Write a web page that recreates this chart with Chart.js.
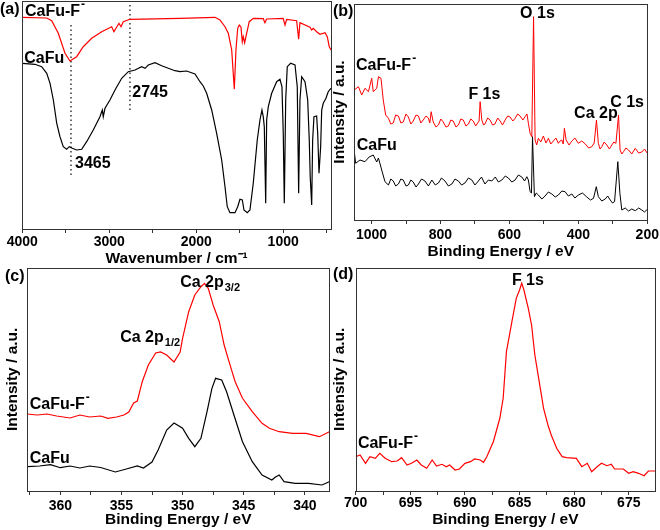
<!DOCTYPE html>
<html>
<head>
<meta charset="utf-8">
<script src="https://cdn.jsdelivr.net/npm/chart.js@4.4.0/dist/chart.umd.min.js"></script>
<style>
  body { margin: 0; background: #fff; }
  #fig { position: relative; width: 660px; height: 530px; background: #fff; overflow: hidden; }
  canvas { position: absolute; }
</style>
</head>
<body>
<div id="fig">
  <canvas id="ca" width="335" height="268" style="left:0;top:0"></canvas>
  <canvas id="cb" width="328" height="268" style="left:332px;top:0"></canvas>
  <canvas id="cc" width="335" height="268" style="left:0;top:262px"></canvas>
  <canvas id="cd" width="328" height="268" style="left:332px;top:262px"></canvas>
</div>
<script>
// (a) FTIR, wavenumber (cm-1) vs transmittance (a.u.)
var irRedWn = [4000,3719,3662,3586,3509,3452,3375,3299,3202,3087,2972,2946,2923,2888,2865,2839,2762,2187,1784,1727,1669,1631,1592,1562,1543,1523,1505,1486,1470,1459,1443,1420,1390,1344,1229,1210,1190,1000,979,960,845,822,807,692,672,654,615,577,519,493,470,450]
var irRedT = [211.7,211,208.3,195.7,175.7,168,172.3,182.3,190.7,197.3,202.3,197.3,200.7,205.7,202.3,207.3,209.7,210.7,211.7,209,202.3,195.7,179,139.7,179,200.7,204,202.3,187.3,192.3,186.3,195.7,207.3,210.7,210.3,206.3,210,210.7,204,209.7,208.3,189.7,206.3,201.7,199,200.7,197.3,194.7,196.3,192.3,182.3,179]
var irBlackWn = [4000,3854,3777,3719,3681,3643,3604,3567,3529,3490,3460,3425,3375,3317,3260,3184,3107,3080,3069,3049,2992,2934,2857,2781,2704,2627,2589,2551,2474,2397,2321,2244,2187,2110,2014,1957,1919,1880,1822,1765,1707,1669,1643,1612,1554,1523,1497,1470,1451,1413,1382,1344,1298,1267,1244,1229,1217,1201,1190,1171,1132,1075,1037,1014,999,987,971,953,914,864,838,822,807,787,749,718,700,689,672,661,646,615,603,588,569,557,539,508,482,451]
var irBlackT = [165.7,164.7,162.3,155.7,145.7,129,105.7,92.3,82.3,79.7,82.3,80.7,79,79.7,87.3,99,112.3,119,112.3,120.7,129,139,150.7,157.3,159,162.3,160.7,164,166.3,163.3,160.7,158.3,157.3,158,155,147.3,143,135.7,119,95.7,69,42.3,22.3,16.3,16.3,22.3,29.7,29,19,16.3,19,45.7,89,109,119,112.3,102.3,25.7,109,122.3,135.7,147.3,149.7,142.3,95.7,25.7,129,162.3,165.7,164,142.3,35.7,129,152.3,147.3,129,89,52.3,24,89,112.3,113,95.7,55.7,82.3,119,125.7,130.7,137.3,140.7]
var irMarkWn = [3440, 2762]
var irMarkTop = [204, 224]
var irMarkBottom = [51, 117]
var irTicks = [500,1000,1500,2000,2500,3000,3500,4000]

// (b) XPS survey
var svRedE = [1050,1038,1028.5,1019,1009,999.5,995,985,980,972.5,966,959,951,944,937,930,922,915,908,900,893,886,879,871,864,857,850,842,835,831,827,821,813,806,799,792,784,777,770,763,755,748,741,734,726,719,712,705,698,692,688,685,680,675,671,663,656,649,642,634,627,620,612.5,605,598,590,583.5,576,569,561,554.5,549,545,540,535,530,525.5,521,516,509,501.5,494,487,480,472.5,465,458,453,448,444,440.5,435.5,427,419,410,400,390,380,370,361,354,347.5,342,337,332,325,317.5,310,303,297,291,283.5,279,274,269,262,254.5,245,235,225,216,208,200]
var svRedI = [130,133.3,125,131.7,128.3,141.7,128.3,131.7,143.3,141.7,120,105,101.7,96,97,105,104,97,98,106,103,96,99,105,104,97,100,104,102,97,108.3,98,93,95,101,98,93,94,100,99,93,95,101,100,94,96,101,99,94,97,99,118.3,100,95,96,102,100,95,96,102,99,95,100,104,103,99,101.7,106,104,100,103.3,106,96.7,86.7,83.3,203.3,80,75,81.7,78,84,77,81.7,76,79,82,76.7,79,80,76,91.7,80,75,79,82,76.7,79,76,72,73.3,77,100,76.7,71,73.3,78,75,71,75,78,76.7,105,70,66,68.3,72,70,66,71.7,67,68,71,66.7]
var svBlackE = [1050,1046,1033.5,1019,1007,995,985,980,970.5,961,951,944,937,930,922,915,908,900,893,886,879,871,864,855,845,835,825,815,806,797,787,777,767,758,748,739,729,719,709,700,690,681,671,661,651,641,632,622,612,603,593,583.5,574,564,556,549.5,545,540,536,533,527.5,522,516,506,496.5,487,477,467,458,448,438.5,429,419,410,400,388,375.5,365,356,348,342,332,322,315,307.5,301,295,285.5,279.5,274,264,254.5,245,235,225,216,208,200]
var svBlackI = [68.3,56.7,60,58.3,63,65,58,62,50,38.3,35,41,39,34,36,41,40,34,35,40,38,33,36,41,39,34,40,35,37,42,39,34,36,41,39,35,37,42,40,35,39,43,36,40,39,43,38,40,44,42,38,40,45,43,39,43.3,40,28.3,27,83.3,23.3,27,25,21,24,28,26,23,25,29,28.3,24,26,22,25,27,23,20,21.7,33.3,23.3,19,21,24,20,17,18.3,58.3,26.7,10,12,9,11,9.3,12,10,8,10.7]
var svTicks = [200,300,400,500,600,700,800,900,1000]

// (c) Ca 2p
var caRedE = [362.7,361.9,361.1,360.3,359.2,358.4,357.6,356.7,356.1,355.4,354.8,354.4,354.0,353.7,353.3,352.8,352.2,351.8,351.3,350.7,350.2,350.0,349.5,349.0,348.5,348.2,347.9,347.5,347.0,346.6,346.2,345.7,345.1,344.3,343.5,342.9,342.1,341.0,339.9,338.8,338.0]
var caRedI = [77,76,77,75,73,76,74,75,72.7,74,76,79,88,90,109.3,126,138,139,136,129,139,152.7,179.3,196,204.3,207.7,202.7,186,169.3,146,129.3,109.3,92.7,79.3,67.7,62.7,59.3,57.7,57.7,54.3,59.3]
var caBlackE = [362.7,361.7,360.8,360.0,359.2,358.4,357.6,356.7,355.5,354.6,353.7,353.2,352.5,352.0,351.3,350.7,350.0,349.5,349.0,348.5,348.0,347.6,347.3,346.8,346.4,345.8,345.1,344.3,343.5,342.7,342.4,342.1,341.7,340.8,339.7,338.6,338.0]
var caBlackI = [24.3,25,26.3,23.3,25,23,25,23.5,19,22,25,23,29,41,61,68,62.7,52.7,44.3,52.7,79.3,102.7,112.7,111,99.3,76,49.3,29.3,16,11,14,16,9.3,7.7,7.7,6,9.3]
var caTicks = [340,342.5,345,347.5,350,352.5,355,357.5,360,362.5]

// (d) F 1s
var fE = [700,699.6,699.1,698.7,698.2,697.8,697.3,696.7,696.2,695.8,695.3,694.9,694.4,694.0,693.5,693.0,692.6,692.1,691.7,691.4,690.9,690.5,690.0,689.5,689.1,688.6,688.3,688.0,687.8,687.4,687.1,686.8,686.5,686.2,685.7,685.3,685.0,684.8,684.6,684.2,683.9,683.6,683.2,682.8,682.4,682.1,681.6,681.1,680.7,679.8,679.3,678.8,678.4,677.9,677.5,677.0,676.6,676.3,675.5,675.0,674.6,674.1,673.6,673.2,672.6]
var fI = [34.3,36,27.7,34.3,32.7,37.7,32.7,29.3,30,33.3,26,27.7,31,26,22.7,31,25,26.7,24.3,26,21,22,27.7,29.3,32,31,28.7,34.3,39.3,49.3,61,73,92.7,139.3,169.3,192.7,201,207.7,201,182.7,166,136,109.3,82.7,66,56,42.7,34.3,33.3,32.7,24.3,27.7,19.3,24.3,27.7,25.3,26.7,22,22,17.7,19.3,17.7,15.3,20,20]
var fTicks = [675,677.5,680,682.5,685,687.5,690,692.5,695,697.5,700]

var FONT = '"Liberation Sans", Arial, sans-serif'
Chart.defaults.font.family = FONT
Chart.defaults.color = '#000'

function pts(xs, ys) {
    return xs.map(function (x, i) { return { x: x, y: ys[i] } })
}

function series(xs, ys, color, width) {
    return { data: pts(xs, ys), borderColor: color, borderWidth: width || 1.2, pointRadius: 0, fill: false }
}

// box around the plot area
var frame = {
    id: 'frame',
    afterDraw: function (chart) {
        var a = chart.chartArea, ctx = chart.ctx
        ctx.save()
        ctx.strokeStyle = '#333'
        ctx.lineWidth = 1
        ctx.strokeRect(Math.round(a.left) + 0.5, Math.round(a.top) + 0.5,
            Math.round(a.right - a.left), Math.round(a.bottom - a.top))
        ctx.restore()
    }
}

// text labels; x/y in data units, px/py in canvas pixels
function notes(items) {
    return {
        id: 'notes',
        afterDraw: function (chart) {
            var ctx = chart.ctx, sx = chart.scales.x, sy = chart.scales.y
            ctx.save()
            ctx.fillStyle = '#000'
            ctx.textBaseline = 'alphabetic'
            ctx.textAlign = 'left'
            items.forEach(function (n) {
                var X = n.px !== undefined ? n.px : sx.getPixelForValue(n.x)
                var Y = n.py !== undefined ? n.py : sy.getPixelForValue(n.y)
                ctx.font = 'bold 16px ' + FONT
                ctx.fillText(n.t, X, Y)
                var w = ctx.measureText(n.t).width
                if (n.sup) {
                    ctx.font = 'bold 12px ' + FONT
                    ctx.fillText(n.sup, X + w + 1, Y - 8)
                }
                if (n.sub) {
                    ctx.font = 'bold 11px ' + FONT
                    ctx.fillText(n.sub, X + w + 1, Y + 4)
                }
            })
            ctx.restore()
        }
    }
}

function panel(id, o) {
    return new Chart(document.getElementById(id), {
        type: 'line',
        data: { datasets: o.datasets },
        options: {
            responsive: false,
            animation: false,
            devicePixelRatio: 1,
            layout: { padding: { left: 0, top: o.top, right: o.right, bottom: 0 } },
            plugins: { legend: { display: false }, tooltip: { enabled: false } },
            elements: { line: { tension: 0 } },
            scales: {
                x: {
                    type: 'linear', reverse: true, min: o.xMin, max: o.xMax,
                    afterBuildTicks: function (s) {
                        s.ticks = o.ticks.map(function (v) { return { value: v } })
                    },
                    afterFit: function (s) { s.height = o.xH },
                    border: { display: false },
                    grid: { drawOnChartArea: false, drawTicks: true, tickLength: 4, color: '#333' },
                    ticks: {
                        autoSkip: false, maxRotation: 0,
                        padding: o.tickPad, color: '#000',
                        font: { size: 14, weight: 'bold', lineHeight: 1 },
                        callback: function (v) { return Math.abs(v % o.major) < 1e-6 ? String(v) : '' }
                    },
                    title: {
                        display: true, text: o.xTitle, color: '#000',
                        font: { size: 15.5, weight: 'bold', lineHeight: 1 },
                        padding: { top: 0, bottom: o.titlePad }
                    }
                },
                y: {
                    min: 0, max: o.yMax,
                    afterFit: function (s) { s.width = o.yW },
                    border: { display: false },
                    grid: { display: false },
                    ticks: { display: false },
                    title: {
                        display: o.yTitle, text: 'Intensity / a.u.', color: '#000',
                        font: { size: 15.5, weight: 'bold', lineHeight: 1 },
                        padding: { top: o.yTitlePad || 0, bottom: 0 }
                    }
                }
            }
        },
        plugins: [frame, notes(o.notes)]
    })
}

var RED = '#ff0000', BLACK = '#000000'

var irDatasets = [series(irRedWn, irRedT, RED), series(irBlackWn, irBlackT, BLACK)]
irMarkWn.forEach(function (wn, i) {
    irDatasets.push({
        data: [{ x: wn, y: irMarkTop[i] }, { x: wn, y: irMarkBottom[i] }],
        borderColor: BLACK, borderWidth: 1.2, borderDash: [1.5, 3], pointRadius: 0, fill: false
    })
})

panel('ca', {
    datasets: irDatasets, ticks: irTicks,
    xMin: 450, xMax: 4000, major: 1000, yMax: 228,
    top: 1, right: 4, yW: 22.3, xH: 39, tickPad: 2.5, titlePad: 1.75,
    xTitle: 'Wavenumber / cm\u207B\u00B9', yTitle: false,
    notes: [
        { t: '(a)', px: 0, py: 13.5 },
        { t: 'CaFu-F', sup: '-', x: 3969, y: 213.5 },
        { t: 'CaFu', x: 3977, y: 165.7 },
        { t: '3465', x: 3394, y: 60.7 },
        { t: '2745', x: 2735, y: 132.3 }
    ]
})

panel('cb', {
    datasets: [series(svRedE, svRedI, RED, 1), series(svBlackE, svBlackI, BLACK, 1)], ticks: svTicks,
    xMin: 200, xMax: 1050, major: 200, yMax: 216,
    top: 4, right: 12.7, yW: 22.3, xH: 48, tickPad: 4, titlePad: 8.75,
    xTitle: 'Binding Energy / eV', yTitle: true, yTitlePad: 0,
    notes: [
        { t: '(b)', px: 1, py: 16 },
        { t: 'CaFu-F', sup: '-', x: 1045, y: 150 },
        { t: 'O 1s', x: 569, y: 201.7 },
        { t: 'F 1s', x: 719, y: 120.7 },
        { t: 'Ca 2p', x: 412.3, y: 101.7 },
        { t: 'C 1s', x: 307.8, y: 113.3 },
        { t: 'CaFu', x: 1043, y: 70 }
    ]
})

panel('cc', {
    datasets: [series(caRedE, caRedI, RED), series(caBlackE, caBlackI, BLACK)], ticks: caTicks,
    xMin: 338, xMax: 362.7, major: 5, yMax: 223.3,
    top: 5.7, right: 5.7, yW: 27.3, xH: 39, tickPad: 3.8, titlePad: 2.75,
    xTitle: 'Binding Energy / eV', yTitle: true, yTitlePad: 4.75,
    notes: [
        { t: '(c)', px: 5, py: 19 },
        { t: 'Ca 2p', sub: '3/2', x: 350.2, y: 204.3 },
        { t: 'Ca 2p', sub: '1/2', x: 355.1, y: 148.7 },
        { t: 'CaFu-F', sup: '-', x: 362.5, y: 82 },
        { t: 'CaFu', x: 362.5, y: 27.7 }
    ]
})

panel('cd', {
    datasets: [series(fE, fI, RED)], ticks: fTicks,
    xMin: 672.6, xMax: 700, major: 5, yMax: 223.3,
    top: 5.7, right: 5, yW: 23.7, xH: 39, tickPad: 1.3, titlePad: 2.75,
    xTitle: 'Binding Energy / eV', yTitle: true, yTitlePad: 0,
    notes: [
        { t: '(d)', px: 1, py: 17 },
        { t: 'F 1s', x: 685.7, y: 206 },
        { t: 'CaFu-F', sup: '-', x: 699.8, y: 43.3 }
    ]
})
</script>
</body>
</html>
